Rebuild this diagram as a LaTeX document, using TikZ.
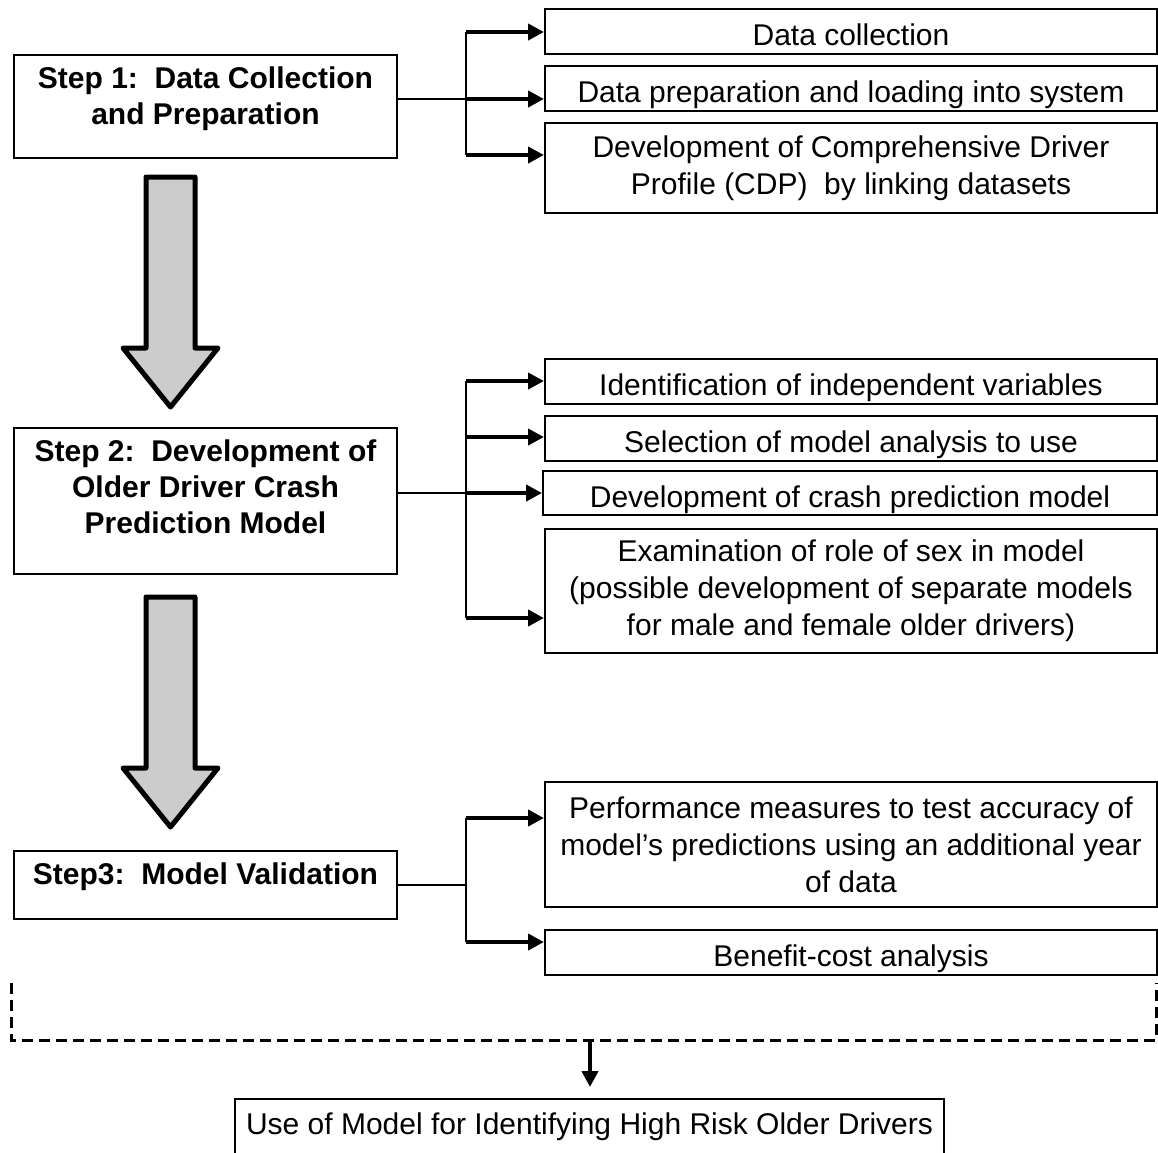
\documentclass[tikz,border=0pt]{standalone}
\usepackage{fontspec}
\setmainfont{Liberation Sans}
\usepackage{tikz}
\usetikzlibrary{positioning,arrows.meta}

\begin{document}
\begin{tikzpicture}[x=1pt,y=-1pt,
    stepbox/.style={draw, line width=2pt, anchor=north, align=center, minimum width=383pt,
        inner ysep=10pt, font=\fontsize{30}{36}\selectfont\bfseries},
    taskbox/.style={draw, line width=2pt, align=center, minimum width=612pt,
        font=\fontsize{30}{37}\selectfont},
    oneline/.style={text height=28pt, text depth=0pt},
    link/.style={line width=2pt},
    branch/.style={line width=4pt, -{Triangle[length=16pt,width=16pt]}},
    bigdown/.style={draw, line width=5pt, line join=round, fill=black!20},
    dashframe/.style={line width=3pt, dash pattern=on 11pt off 6pt}]
                \useasboundingbox (0,0) rectangle (1158,1152);
                \def\fatarrow#1{(146,#1) -- (195,#1) -- (195,{#1+171}) -- (218,{#1+171})
                    -- (170.5,{#1+230}) -- (123,{#1+171}) -- (146,{#1+171}) -- cycle}
                \node[stepbox, text height=59.5pt, text depth=23.5pt] (s1) at (205.5,54) {Step 1:~~Data Collection\\and Preparation};
                \node[stepbox, text height=95.5pt, text depth=30.5pt] (s2) at (205.5,427) {Step 2:~~Development of\\Older Driver Crash\\Prediction Model};
                \node[stepbox, text height=23.5pt, text depth=24.5pt] (s3) at (205.5,850) {Step3:~~Model Validation};
                \draw[bigdown] \fatarrow{177};
                \draw[bigdown] \fatarrow{597};

                \node[taskbox, oneline, minimum height=45pt] (d1) at (851,31.5) {Data collection};
                \node[taskbox, oneline, minimum height=45pt] (d2) at (851,88.5) {Data preparation and loading into system};
                \node[taskbox, minimum height=90pt] (d3) at (851,168) {Development of Comprehensive Driver\\Profile (CDP)~ by linking datasets};
                \coordinate (j1a) at (466,32);
                \coordinate (j1) at (466,99);
                \coordinate (j1c) at (466,155);
                \draw[link] (s1.east |- j1) -- (j1);
                \draw[link] (j1a) -- (j1c);
                \draw[branch] (j1a) -- (j1a -| d1.west);
                \draw[branch] (j1) -- (j1 -| d2.west);
                \draw[branch] (j1c) -- (j1c -| d3.west);

                \node[taskbox, oneline, minimum height=45pt] (m1) at (851,381.5) {Identification of independent variables};
                \node[taskbox, oneline, minimum height=45pt] (m2) at (851,438.5) {Selection of model analysis to use};
                \node[taskbox, oneline, minimum height=44pt, minimum width=614pt] (m3) at (850,493) {Development of crash prediction model};
                \node[taskbox, minimum height=124pt] (m4) at (851,591) {Examination of role of sex in model\\(possible development of separate models\\for male and female older drivers)};
                \coordinate (j2a) at (466,381);
                \coordinate (j2b) at (466,437);
                \coordinate (j2) at (466,493);
                \coordinate (j2d) at (466,618);
                \draw[link] (s2.east |- j2) -- (j2);
                \draw[link] (j2a) -- (j2d);
                \draw[branch] (j2a) -- (j2a -| m1.west);
                \draw[branch] (j2b) -- (j2b -| m2.west);
                \draw[branch] (j2) -- (j2 -| m3.west);
                \draw[branch] (j2d) -- (j2d -| m4.west);

                \node[taskbox, minimum height=125pt] (v1) at (851,844.5) {Performance measures to test accuracy of\\model’s predictions using an additional year\\of data};
                \node[taskbox, oneline, minimum height=45pt] (v2) at (851,952.5) {Benefit-cost analysis};
                \coordinate (j3a) at (466,818);
                \coordinate (j3) at (466,885);
                \coordinate (j3b) at (466,942);
                \draw[link] (s3.east |- j3) -- (j3);
                \draw[link] (j3a) -- (j3b);
                \draw[branch] (j3a) -- (j3a -| v1.west);
                \draw[branch] (j3b) -- (j3b -| v2.west);

                \draw[dashframe] (11,983) -- (11,1040) -- (1156,1040) -- (1156,983);
                \coordinate (dashmid) at (590,1040);
                \node[taskbox, anchor=north, minimum width=709pt, inner ysep=10pt, text height=25.5pt, text depth=40pt] (use) at (589.5,1098) {Use of Model for Identifying High Risk Older Drivers};
                \draw[branch, shorten >=11pt] (dashmid) -- (dashmid |- use.north);
            \end{tikzpicture}
\end{document}
